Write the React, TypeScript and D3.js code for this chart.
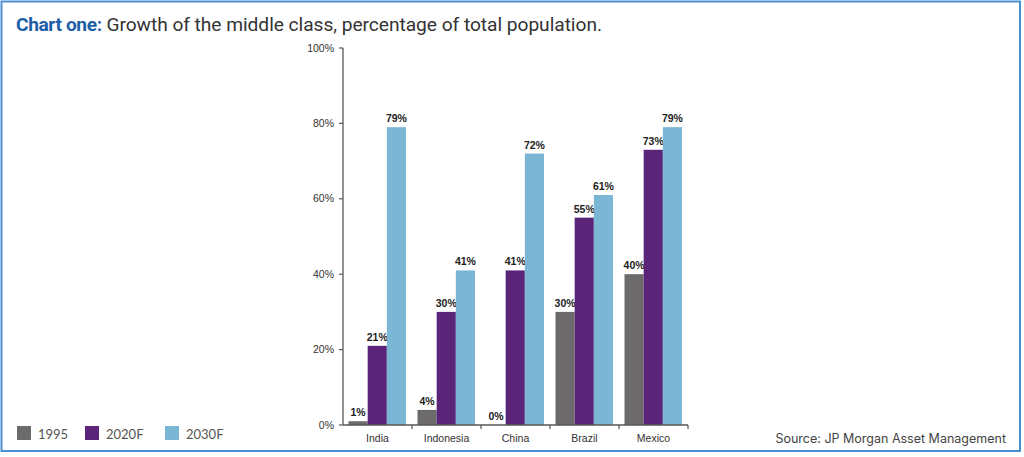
import React from "react";
import * as d3 from "d3";

const categories = ["India", "Indonesia", "China", "Brazil", "Mexico"];
const seriesNames = ["1995", "2020F", "2030F"];
const values1995 = [1, 4, 0, 30, 40];
const values2020 = [21, 30, 41, 55, 73];
const values2030 = [79, 41, 72, 61, 79];
const yTicks = [0, 20, 40, 60, 80, 100];
const colors = ["#6c6a6a", "#5a2479", "#7bb6d5"];

const W = 1024;
const H = 457;

export default function App() {
  const series = [values1995, values2020, values2030];
  const x0 = d3.scaleBand<string>().domain(categories).range([343, 688]).paddingInner(0);
  const x1 = d3.scaleBand<string>().domain(seriesNames).range([5.5, 63]).paddingInner(0);
  const y = d3.scaleLinear().domain([0, 100]).range([425, 48]);
  const axisColor = "#5a5656";
  const bodyFont = "Liberation Sans, Arial, sans-serif";

  return (
    <svg
      width={W}
      height={H}
      style={{ position: "absolute", left: 0, top: 0, background: "#fff" }}
    >
      <rect x={1.5} y={1.5} width={1018.5} height={449.5} fill="#fff" stroke="#4a8fcf" strokeWidth={2} />
      <text x={16} y={31} fontFamily="Roboto, Inter, sans-serif" fontSize={19.2} fill="#333">
        <tspan fontWeight="bold" fill="#1d5ea8" letterSpacing={-0.4}>Chart one:</tspan>
        <tspan letterSpacing={-0.05}> Growth of the middle class, percentage of total population.</tspan>
      </text>

      {/* bars */}
      {categories.map((c, ci) => (
        <g key={c} transform={`translate(${x0(c)},0)`}>
          {seriesNames.map((s, si) => {
            const v = series[si][ci];
            const bx = x1(s)!;
            const bw = x1.bandwidth();
            return (
              <g key={s}>
                <rect x={bx} y={y(v)} width={bw} height={y(0) - y(v)} fill={colors[si]} />
                <text
                  x={bx + bw / 2}
                  y={y(v) - 5}
                  textAnchor="middle"
                  fontFamily={bodyFont}
                  fontWeight="bold"
                  fontSize={10.5}
                  fill="#222"
                >
                  {v}%
                </text>
              </g>
            );
          })}
          <text
            x={x0.bandwidth() / 2}
            y={442}
            textAnchor="middle"
            fontFamily={bodyFont}
            fontSize={10.5}
            fill="#333"
          >
            {c}
          </text>
        </g>
      ))}

      {/* y axis */}
      <line x1={343} x2={343} y1={y(100)} y2={y(0)} stroke={axisColor} strokeWidth={1.3} />
      {yTicks.map((t) => (
        <g key={t}>
          <line x1={339} x2={343} y1={y(t)} y2={y(t)} stroke={axisColor} strokeWidth={1.2} />
          <text
            x={334}
            y={y(t) + 3.5}
            textAnchor="end"
            fontFamily={bodyFont}
            fontSize={10.5}
            fill="#333"
          >
            {t}%
          </text>
        </g>
      ))}
      {/* x axis */}
      <line x1={343} x2={688} y1={y(0)} y2={y(0)} stroke={axisColor} strokeWidth={1.3} />
      {categories.map((c) => (
        <line
          key={c}
          x1={x0(c)! + x0.bandwidth()}
          x2={x0(c)! + x0.bandwidth()}
          y1={y(0)}
          y2={y(0) + 4}
          stroke={axisColor}
          strokeWidth={1.2}
        />
      ))}

      {/* legend */}
      {seriesNames.map((s, i) => {
        const lx = [17, 85, 165][i];
        return (
          <g key={s}>
            <rect x={lx} y={426} width={14} height={14} fill={colors[i]} />
            <text x={lx + 21} y={438.5} fontFamily="Lato, Inter, sans-serif" fontSize={13} fill="#555">
              {s}
            </text>
          </g>
        );
      })}

      <text
        x={1006}
        y={443}
        textAnchor="end"
        fontFamily="Inter, Roboto, sans-serif"
        fontSize={12.5}
        fill="#444"
      >
        Source: JP Morgan Asset Management
      </text>
    </svg>
  );
}
